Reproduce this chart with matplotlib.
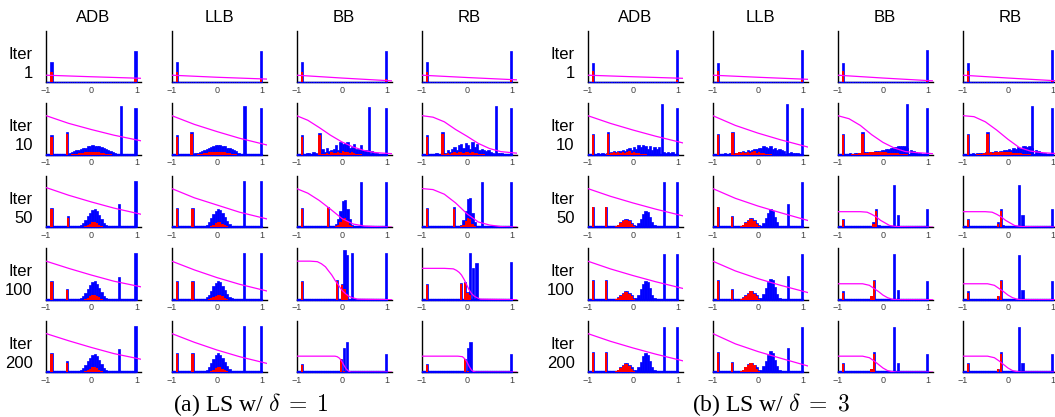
import numpy as np
import matplotlib.pyplot as plt

plt.rcParams['font.family'] = ['Liberation Sans', 'DejaVu Sans']
plt.rcParams['mathtext.fontset'] = 'cm'

METHODS = ["ADB", "LLB", "BB", "RB"]
ITERS = [1, 10, 50, 100, 200]
CAPTIONS = [r"(a) LS w/ $\delta\;=\;1$", r"(b) LS w/ $\delta\;=\;3$"]

# spikes: (x, blue height, red height), heights as fraction of axis height
A_SPIKES = {
    "ADB": [
        [(-0.88, 0.40, 0.21), (0.98, 0.61, 0.06)],
        [(-0.88, 0.38, 0.35), (-0.54, 0.44, 0.40), (0.65, 0.95, 0.0), (0.98, 0.91, 0.0)],
        [(-0.88, 0.38, 0.35), (-0.52, 0.21, 0.18), (0.62, 0.45, 0.0), (0.98, 0.90, 0.0)],
        [(-0.88, 0.37, 0.35), (-0.53, 0.20, 0.18), (0.62, 0.45, 0.0), (0.98, 0.91, 0.0)],
        [(-0.88, 0.37, 0.35), (-0.53, 0.21, 0.18), (0.62, 0.45, 0.0), (0.98, 0.90, 0.0)],
    ],
    "LLB": [
        [(-0.88, 0.40, 0.21), (0.98, 0.61, 0.06)],
        [(-0.88, 0.38, 0.35), (-0.56, 0.44, 0.40), (0.61, 0.95, 0.0), (0.98, 0.91, 0.0)],
        [(-0.88, 0.37, 0.35), (-0.54, 0.37, 0.35), (0.60, 0.90, 0.0), (0.98, 0.90, 0.0)],
        [(-0.88, 0.37, 0.35), (-0.54, 0.37, 0.35), (0.60, 0.90, 0.0), (0.98, 0.90, 0.0)],
        [(-0.88, 0.37, 0.35), (-0.54, 0.38, 0.35), (0.60, 0.89, 0.0), (0.98, 0.89, 0.0)],
    ],
    "BB": [
        [(-0.88, 0.40, 0.21), (0.98, 0.61, 0.06)],
        [(-0.88, 0.38, 0.35), (-0.49, 0.43, 0.39), (0.60, 0.93, 0.0), (0.98, 0.91, 0.0)],
        [(-0.88, 0.37, 0.35), (-0.31, 0.39, 0.37), (0.42, 0.88, 0.0), (0.98, 0.88, 0.0)],
        [(-0.88, 0.37, 0.35), (-0.10, 0.38, 0.36), (0.0, 0.30, 0.28), (0.06, 0.96, 0.20),
         (0.12, 0.87, 0.12), (0.22, 0.90, 0.0), (0.98, 0.91, 0.0)],
        [(-0.88, 0.15, 0.13), (-0.01, 0.26, 0.25), (0.05, 0.46, 0.02), (0.11, 0.59, 0.0),
         (0.98, 0.36, 0.0)],
    ],
    "RB": [
        [(-0.88, 0.40, 0.21), (0.98, 0.61, 0.06)],
        [(-0.88, 0.38, 0.35), (-0.54, 0.45, 0.41), (0.64, 0.95, 0.0), (0.98, 0.91, 0.0)],
        [(-0.88, 0.37, 0.35), (-0.28, 0.39, 0.36), (0.33, 0.88, 0.0), (0.98, 0.88, 0.0)],
        [(-0.88, 0.30, 0.28), (-0.13, 0.32, 0.30), (-0.05, 0.35, 0.33), (0.01, 0.15, 0.14),
         (0.06, 0.90, 0.10), (0.13, 0.61, 0.0), (0.21, 0.72, 0.0), (0.98, 0.74, 0.0)],
        [(-0.88, 0.15, 0.13), (-0.04, 0.26, 0.25), (0.02, 0.46, 0.02), (0.08, 0.59, 0.0),
         (0.98, 0.36, 0.0)],
    ],
}

# bumps: (first bin centre, blue heights, red heights), bins 0.05 wide
A_BUMPS = {
    "ADB": [
        None,
        (-0.475, [0.03, 0.05, 0.07, 0.09, 0.10, 0.12, 0.13, 0.14, 0.16, 0.17, 0.18, 0.17, 0.17, 0.16, 0.15, 0.13, 0.12, 0.10, 0.07, 0.05, 0.03],
                 [0.0, 0.01, 0.02, 0.02, 0.03, 0.04, 0.04, 0.05, 0.05, 0.06, 0.06, 0.06, 0.05, 0.05, 0.04, 0.03, 0.02, 0.02, 0.01, 0.0, 0.0]),
        (-0.275, [0.02, 0.04, 0.08, 0.14, 0.21, 0.28, 0.34, 0.36, 0.31, 0.23, 0.15, 0.08, 0.04, 0.02, 0.01],
                 [0.0, 0.0, 0.0, 0.02, 0.04, 0.07, 0.09, 0.10, 0.08, 0.05, 0.02, 0.0, 0.0, 0.0, 0.0]),
        (-0.275, [0.02, 0.04, 0.08, 0.14, 0.21, 0.28, 0.34, 0.36, 0.31, 0.23, 0.15, 0.08, 0.04, 0.02, 0.01],
                 [0.0, 0.0, 0.0, 0.02, 0.04, 0.07, 0.09, 0.10, 0.08, 0.05, 0.02, 0.0, 0.0, 0.0, 0.0]),
        (-0.275, [0.02, 0.04, 0.08, 0.14, 0.21, 0.28, 0.34, 0.36, 0.31, 0.23, 0.15, 0.08, 0.04, 0.02, 0.01],
                 [0.0, 0.0, 0.0, 0.02, 0.04, 0.07, 0.09, 0.10, 0.08, 0.05, 0.02, 0.0, 0.0, 0.0, 0.0]),
    ],
    "LLB": [
        None,
        (-0.475, [0.03, 0.04, 0.06, 0.08, 0.10, 0.12, 0.14, 0.15, 0.16, 0.18, 0.19, 0.18, 0.17, 0.16, 0.14, 0.13, 0.11, 0.09, 0.07, 0.04, 0.02],
                 [0.0, 0.01, 0.02, 0.02, 0.03, 0.04, 0.05, 0.05, 0.05, 0.06, 0.06, 0.06, 0.05, 0.05, 0.04, 0.03, 0.02, 0.02, 0.01, 0.0, 0.0]),
        (-0.275, [0.02, 0.05, 0.10, 0.17, 0.25, 0.32, 0.35, 0.33, 0.27, 0.19, 0.11, 0.06, 0.03, 0.01, 0.0],
                 [0.0, 0.0, 0.01, 0.03, 0.05, 0.08, 0.09, 0.09, 0.07, 0.04, 0.02, 0.0, 0.0, 0.0, 0.0]),
        (-0.275, [0.02, 0.05, 0.10, 0.17, 0.26, 0.33, 0.36, 0.34, 0.27, 0.19, 0.11, 0.06, 0.03, 0.01, 0.0],
                 [0.0, 0.0, 0.01, 0.03, 0.05, 0.08, 0.10, 0.10, 0.07, 0.04, 0.02, 0.0, 0.0, 0.0, 0.0]),
        (-0.275, [0.02, 0.05, 0.10, 0.17, 0.26, 0.34, 0.37, 0.34, 0.27, 0.19, 0.11, 0.06, 0.03, 0.01, 0.0],
                 [0.0, 0.0, 0.01, 0.03, 0.05, 0.08, 0.10, 0.10, 0.07, 0.04, 0.02, 0.0, 0.0, 0.0, 0.0]),
    ],
    "BB": [
        None,
        (-0.775, [0.03, 0.04, 0.02, 0.05, 0.03, 0.02, 0.03, 0.12, 0.06, 0.14, 0.08, 0.09, 0.12, 0.18, 0.10, 0.25, 0.20,
                  0.22, 0.25, 0.14, 0.15, 0.20, 0.12, 0.12, 0.18, 0.10, 0.10, 0.05, 0.0, 0.07, 0.04, 0.03, 0.02],
                 [0.0, 0.0, 0.0, 0.0, 0.0, 0.0, 0.0, 0.02, 0.01, 0.03, 0.02, 0.05, 0.03, 0.04, 0.06, 0.04, 0.08,
                  0.05, 0.06, 0.04, 0.05, 0.03, 0.02, 0.02, 0.01, 0.0, 0.0, 0.0, 0.0, 0.0, 0.0, 0.0, 0.0]),
        (-0.175, [0.02, 0.06, 0.16, 0.32, 0.50, 0.53, 0.35, 0.15, 0.05, 0.02],
                 [0.0, 0.02, 0.05, 0.10, 0.16, 0.17, 0.12, 0.05, 0.02, 0.0]),
        None,
        None,
    ],
    "RB": [
        None,
        (-0.775, [0.02, 0.02, 0.03, 0.02, 0.02, 0.03, 0.04, 0.10, 0.06, 0.12, 0.15, 0.10, 0.18, 0.20, 0.13, 0.22, 0.18,
                  0.12, 0.25, 0.15, 0.20, 0.10, 0.12, 0.10, 0.08, 0.10, 0.05, 0.03, 0.0, 0.04, 0.03, 0.03, 0.02, 0.02],
                 [0.0, 0.0, 0.0, 0.0, 0.0, 0.0, 0.02, 0.03, 0.02, 0.04, 0.05, 0.03, 0.05, 0.06, 0.04, 0.05, 0.06,
                  0.04, 0.05, 0.03, 0.04, 0.02, 0.02, 0.01, 0.0, 0.0, 0.0, 0.0, 0.0, 0.0, 0.0, 0.0, 0.0, 0.0]),
        (-0.175, [0.02, 0.05, 0.13, 0.32, 0.55, 0.56, 0.28, 0.09, 0.02],
                 [0.0, 0.02, 0.05, 0.12, 0.17, 0.15, 0.07, 0.02, 0.0]),
        None,
        None,
    ],
}

# weight curves: (x points, y points)
X5 = [-1, -0.5, 0, 0.5, 1.1]
X9 = [-1, -0.75, -0.5, -0.25, 0, 0.25, 0.5, 0.75, 1.1]
A_CURVES = {
    "ADB": [([-1, 0, 1.1], [0.14, 0.11, 0.08]),
            (X5, [0.76, 0.61, 0.49, 0.38, 0.27]),
            (X5, [0.77, 0.62, 0.49, 0.37, 0.25]),
            (X5, [0.75, 0.61, 0.48, 0.36, 0.25]),
            (X5, [0.75, 0.61, 0.48, 0.36, 0.25])],
    "LLB": [([-1, 0, 1.1], [0.14, 0.10, 0.065]),
            (X5, [0.76, 0.59, 0.45, 0.32, 0.19]),
            (X5, [0.75, 0.57, 0.43, 0.29, 0.16]),
            (X5, [0.75, 0.58, 0.43, 0.30, 0.17]),
            (X5, [0.75, 0.58, 0.43, 0.30, 0.17])],
    "BB": [([-1, 0, 1.1], [0.14, 0.085, 0.03]),
           (X9, [0.76, 0.67, 0.53, 0.38, 0.25, 0.15, 0.08, 0.04, 0.02]),
           (X9, [0.75, 0.66, 0.52, 0.35, 0.17, 0.06, 0.02, 0.01, 0.0]),
           ([-1, -0.7, -0.54, -0.45, -0.36, -0.3, -0.22, -0.15, -0.07, 0.0, 0.08, 0.15, 0.23, 0.35, 1.1],
            [0.75, 0.75, 0.74, 0.70, 0.64, 0.57, 0.48, 0.38, 0.28, 0.19, 0.12, 0.07, 0.04, 0.01, 0.0]),
           ([-1, -0.15, -0.1, -0.05, 0.0, 0.05, 0.1, 0.15, 0.2, 1.1],
            [0.31, 0.31, 0.30, 0.27, 0.21, 0.13, 0.06, 0.02, 0.0, 0.0])],
    "RB": [([-1, 0, 1.1], [0.14, 0.095, 0.05]),
           (X9, [0.76, 0.73, 0.64, 0.49, 0.36, 0.22, 0.12, 0.06, 0.03]),
           (X9, [0.75, 0.73, 0.64, 0.47, 0.26, 0.10, 0.04, 0.01, 0.0]),
           ([-1, -0.5, -0.3, -0.23, -0.17, -0.12, -0.06, 0.0, 0.05, 0.1, 0.16, 0.22, 0.3, 1.1],
            [0.61, 0.61, 0.60, 0.57, 0.53, 0.48, 0.39, 0.28, 0.19, 0.12, 0.07, 0.04, 0.01, 0.0]),
           ([-1, -0.2, -0.1, -0.05, 0.0, 0.05, 0.1, 0.15, 0.2, 1.1],
            [0.31, 0.31, 0.30, 0.26, 0.20, 0.11, 0.04, 0.01, 0.0, 0.0])],
}

B_SPIKES = {
    "ADB": [
        [(-0.89, 0.38, 0.23), (0.98, 0.64, 0.05)],
        [(-0.89, 0.41, 0.38), (-0.55, 0.44, 0.41), (0.65, 0.98, 0.0), (0.98, 0.90, 0.0)],
        [(-0.89, 0.40, 0.39), (-0.60, 0.40, 0.39), (0.68, 0.88, 0.0), (0.98, 0.88, 0.0)],
        [(-0.89, 0.38, 0.37), (-0.60, 0.38, 0.37), (0.68, 0.88, 0.0), (0.98, 0.88, 0.0)],
        [(-0.89, 0.39, 0.38), (-0.60, 0.39, 0.38), (0.68, 0.88, 0.0), (0.98, 0.88, 0.0)],
    ],
    "LLB": [
        [(-0.89, 0.38, 0.23), (0.98, 0.64, 0.05)],
        [(-0.89, 0.41, 0.38), (-0.56, 0.45, 0.43), (0.65, 0.99, 0.0), (0.98, 0.91, 0.0)],
        [(-0.89, 0.40, 0.39), (-0.57, 0.21, 0.19), (0.66, 0.45, 0.0), (0.98, 0.88, 0.0)],
        [(-0.89, 0.38, 0.37), (-0.57, 0.21, 0.19), (0.66, 0.46, 0.0), (0.98, 0.88, 0.0)],
        [(-0.89, 0.39, 0.38), (-0.57, 0.20, 0.18), (0.66, 0.46, 0.0), (0.98, 0.88, 0.0)],
    ],
    "BB": [
        [(-0.89, 0.38, 0.23), (0.97, 0.64, 0.05)],
        [(-0.89, 0.41, 0.38), (-0.45, 0.44, 0.41), (0.54, 0.98, 0.0), (0.98, 0.90, 0.0)],
        [(-0.89, 0.16, 0.14), (-0.21, 0.09, 0.07), (-0.16, 0.35, 0.32), (-0.10, 0.05, 0.0),
         (0.25, 0.81, 0.0), (0.325, 0.24, 0.0), (0.97, 0.35, 0.0)],
        [(-0.89, 0.17, 0.14), (-0.25, 0.08, 0.07), (-0.19, 0.38, 0.36), (-0.13, 0.02, 0.0),
         (0.25, 0.88, 0.0), (0.325, 0.19, 0.0), (0.97, 0.36, 0.0)],
        [(-0.89, 0.17, 0.15), (-0.25, 0.07, 0.06), (-0.19, 0.39, 0.35),
         (0.25, 0.88, 0.0), (0.325, 0.18, 0.0), (0.97, 0.35, 0.0)],
    ],
    "RB": [
        [(-0.89, 0.38, 0.23), (0.97, 0.64, 0.05)],
        [(-0.89, 0.41, 0.38), (-0.45, 0.44, 0.41), (0.54, 0.95, 0.0), (0.97, 0.90, 0.0)],
        [(-0.89, 0.16, 0.14), (-0.22, 0.09, 0.07), (-0.16, 0.35, 0.32), (-0.11, 0.05, 0.0),
         (0.25, 0.81, 0.0), (0.32, 0.24, 0.0), (0.97, 0.35, 0.0)],
        [(-0.89, 0.17, 0.14), (-0.22, 0.08, 0.07), (-0.16, 0.38, 0.36),
         (0.25, 0.86, 0.0), (0.32, 0.19, 0.0), (0.97, 0.36, 0.0)],
        [(-0.89, 0.17, 0.15), (-0.22, 0.07, 0.06), (-0.16, 0.39, 0.35),
         (0.25, 0.88, 0.0), (0.32, 0.18, 0.0), (0.97, 0.35, 0.0)],
    ],
}

B_BUMPS = {
    "ADB": [
        None,
        (-0.825, [0.02, 0.03, 0.02, 0.03, 0.02, 0.04, 0.03, 0.05, 0.07, 0.05, 0.08, 0.07, 0.10, 0.08, 0.11, 0.13, 0.10, 0.15,
                  0.12, 0.18, 0.15, 0.18, 0.16, 0.12, 0.16, 0.10, 0.15, 0.12, 0.15, 0.0, 0.06, 0.04, 0.06, 0.03, 0.05, 0.0],
                 [0.0, 0.0, 0.0, 0.0, 0.0, 0.02, 0.01, 0.04, 0.05, 0.03, 0.05, 0.04, 0.06, 0.04, 0.05, 0.07, 0.04, 0.06,
                  0.04, 0.03, 0.02, 0.02, 0.01, 0.0, 0.0, 0.0, 0.0, 0.0, 0.0, 0.0, 0.0, 0.0, 0.0, 0.0, 0.0, 0.0]),
        (-0.375, [0.02, 0.05, 0.09, 0.13, 0.16, 0.16, 0.13, 0.08, 0.04, 0.03, 0.08, 0.16, 0.26, 0.32, 0.30, 0.20, 0.10, 0.04],
                 [0.02, 0.04, 0.08, 0.12, 0.14, 0.14, 0.11, 0.06, 0.02, 0.0, 0.0, 0.0, 0.0, 0.0, 0.0, 0.0, 0.0, 0.0]),
        (-0.375, [0.02, 0.05, 0.10, 0.14, 0.17, 0.17, 0.14, 0.09, 0.04, 0.04, 0.10, 0.20, 0.31, 0.37, 0.34, 0.22, 0.10, 0.04],
                 [0.02, 0.04, 0.08, 0.12, 0.15, 0.15, 0.12, 0.07, 0.02, 0.0, 0.0, 0.0, 0.0, 0.0, 0.0, 0.0, 0.0, 0.0]),
        (-0.375, [0.02, 0.05, 0.10, 0.14, 0.17, 0.17, 0.14, 0.09, 0.04, 0.04, 0.10, 0.20, 0.31, 0.37, 0.34, 0.22, 0.10, 0.04],
                 [0.02, 0.04, 0.08, 0.12, 0.15, 0.15, 0.12, 0.07, 0.02, 0.0, 0.0, 0.0, 0.0, 0.0, 0.0, 0.0, 0.0, 0.0]),
    ],
    "LLB": [
        None,
        (-0.825, [0.02, 0.02, 0.03, 0.02, 0.03, 0.03, 0.04, 0.04, 0.06, 0.05, 0.07, 0.06, 0.09, 0.08, 0.10, 0.12, 0.11, 0.14,
                  0.13, 0.17, 0.15, 0.14, 0.16, 0.12, 0.14, 0.10, 0.12, 0.10, 0.08, 0.0, 0.04, 0.05, 0.03, 0.04, 0.03, 0.02],
                 [0.0, 0.0, 0.0, 0.0, 0.0, 0.02, 0.01, 0.04, 0.05, 0.03, 0.05, 0.04, 0.06, 0.04, 0.05, 0.07, 0.04, 0.06,
                  0.04, 0.03, 0.02, 0.02, 0.01, 0.0, 0.0, 0.0, 0.0, 0.0, 0.0, 0.0, 0.0, 0.0, 0.0, 0.0, 0.0, 0.0]),
        (-0.375, [0.02, 0.05, 0.10, 0.14, 0.17, 0.17, 0.13, 0.08, 0.04, 0.03, 0.08, 0.17, 0.28, 0.35, 0.32, 0.20, 0.09, 0.03],
                 [0.02, 0.04, 0.08, 0.12, 0.15, 0.15, 0.11, 0.06, 0.02, 0.0, 0.0, 0.0, 0.0, 0.0, 0.0, 0.0, 0.0, 0.0]),
        (-0.375, [0.02, 0.05, 0.10, 0.14, 0.17, 0.17, 0.14, 0.09, 0.04, 0.04, 0.11, 0.22, 0.34, 0.41, 0.38, 0.24, 0.11, 0.04],
                 [0.02, 0.04, 0.08, 0.12, 0.16, 0.16, 0.12, 0.07, 0.02, 0.0, 0.0, 0.0, 0.0, 0.0, 0.0, 0.0, 0.0, 0.0]),
        (-0.375, [0.02, 0.05, 0.10, 0.15, 0.18, 0.18, 0.14, 0.09, 0.04, 0.04, 0.11, 0.22, 0.34, 0.41, 0.38, 0.24, 0.11, 0.04],
                 [0.02, 0.04, 0.09, 0.13, 0.17, 0.17, 0.13, 0.07, 0.02, 0.0, 0.0, 0.0, 0.0, 0.0, 0.0, 0.0, 0.0, 0.0]),
    ],
    "BB": [
        None,
        (-0.825, [0.02, 0.02, 0.03, 0.02, 0.03, 0.03, 0.04, 0.04, 0.05, 0.05, 0.05, 0.06, 0.06, 0.07, 0.07, 0.08, 0.09, 0.10,
                  0.11, 0.12, 0.13, 0.14, 0.15, 0.16, 0.17, 0.16, 0.17, 0.14, 0.0, 0.10, 0.08, 0.06, 0.04, 0.03, 0.02, 0.02],
                 [0.0, 0.0, 0.0, 0.01, 0.02, 0.02, 0.03, 0.03, 0.04, 0.04, 0.04, 0.05, 0.05, 0.05, 0.05, 0.05, 0.05, 0.05,
                  0.05, 0.04, 0.04, 0.04, 0.03, 0.03, 0.02, 0.02, 0.01, 0.01, 0.0, 0.0, 0.0, 0.0, 0.0, 0.0, 0.0, 0.0]),
        None, None, None,
    ],
    "RB": [
        None,
        (-0.825, [0.02, 0.03, 0.02, 0.03, 0.03, 0.03, 0.04, 0.05, 0.04, 0.06, 0.05, 0.07, 0.06, 0.08, 0.07, 0.09, 0.10, 0.11,
                  0.10, 0.13, 0.12, 0.15, 0.14, 0.16, 0.17, 0.15, 0.16, 0.13, 0.0, 0.09, 0.08, 0.05, 0.04, 0.03, 0.02, 0.02],
                 [0.0, 0.0, 0.0, 0.01, 0.02, 0.02, 0.03, 0.03, 0.04, 0.05, 0.04, 0.06, 0.05, 0.05, 0.06, 0.05, 0.05, 0.06,
                  0.05, 0.04, 0.04, 0.03, 0.03, 0.02, 0.02, 0.01, 0.01, 0.0, 0.0, 0.0, 0.0, 0.0, 0.0, 0.0, 0.0, 0.0]),
        None, None, None,
    ],
}

B_CURVES = {
    "ADB": [([-1, 0, 1.1], [0.14, 0.11, 0.08]),
            (X5, [0.76, 0.61, 0.48, 0.36, 0.23]),
            (X5, [0.75, 0.60, 0.47, 0.35, 0.22]),
            (X5, [0.75, 0.60, 0.47, 0.35, 0.22]),
            (X5, [0.75, 0.60, 0.47, 0.35, 0.22])],
    "LLB": [([-1, 0, 1.1], [0.14, 0.10, 0.06]),
            (X5, [0.76, 0.57, 0.42, 0.29, 0.15]),
            (X5, [0.75, 0.56, 0.41, 0.28, 0.13]),
            (X5, [0.75, 0.56, 0.41, 0.28, 0.14]),
            (X5, [0.75, 0.55, 0.40, 0.27, 0.12])],
    "BB": [([-1, 0, 1.1], [0.14, 0.085, 0.03]),
           (X9, [0.76, 0.70, 0.57, 0.39, 0.24, 0.13, 0.06, 0.04, 0.02]),
           ([-1, -0.5, -0.35, -0.25, -0.15, -0.05, 0.05, 0.15, 0.3, 1.1],
            [0.30, 0.30, 0.29, 0.25, 0.20, 0.13, 0.08, 0.03, 0.01, 0.0]),
           ([-1, -0.45, -0.3, -0.2, -0.1, 0.0, 0.1, 0.2, 0.3, 1.1],
            [0.31, 0.31, 0.28, 0.22, 0.16, 0.09, 0.04, 0.01, 0.0, 0.0]),
           ([-1, -0.45, -0.3, -0.2, -0.1, 0.0, 0.1, 0.2, 0.3, 1.1],
            [0.31, 0.31, 0.28, 0.22, 0.15, 0.08, 0.03, 0.01, 0.0, 0.0])],
    "RB": [([-1, 0, 1.1], [0.14, 0.085, 0.03]),
           (X9, [0.76, 0.74, 0.64, 0.48, 0.30, 0.14, 0.07, 0.04, 0.02]),
           ([-1, -0.5, -0.35, -0.25, -0.15, -0.05, 0.05, 0.15, 0.3, 1.1],
            [0.30, 0.30, 0.29, 0.25, 0.20, 0.13, 0.08, 0.03, 0.01, 0.0]),
           ([-1, -0.45, -0.3, -0.2, -0.1, 0.0, 0.1, 0.2, 0.3, 1.1],
            [0.31, 0.31, 0.28, 0.22, 0.16, 0.09, 0.04, 0.01, 0.0, 0.0]),
           ([-1, -0.45, -0.3, -0.2, -0.1, 0.0, 0.1, 0.2, 0.3, 1.1],
            [0.31, 0.31, 0.28, 0.22, 0.15, 0.08, 0.03, 0.01, 0.0, 0.0])],
}

# layout in pixels
W, H = 1055, 417
COL_LEFT = [[46, 171.7, 296.5, 421.7], [587.7, 712.7, 837.7, 962.7]]
ROW_TOP = [31, 103.3, 175.7, 248.3, 320.7]
AX_W, AX_H = 95, 51.4
CAPTION_X = [251, 771]

BLUE = "#0000ff"
RED = "#ff0000"
MAGENTA = "#ff00ff"
BW = 0.05
BIN_CENTERS = np.arange(-1 + BW / 2, 1.0, BW)
EMPTY_BIN = 0.012   # outline of an empty bin, as drawn by the original plot


def draw_cell(ax, spikes, bump, curve):
    ax.bar(BIN_CENTERS, np.full(len(BIN_CENTERS), EMPTY_BIN), width=BW, color=BLUE,
           edgecolor=BLUE, linewidth=1.0, zorder=3, clip_on=False)
    if bump is not None:
        x0, blue, red = bump
        xs = x0 + BW * np.arange(len(blue))
        ax.bar(xs, blue, width=BW, color=BLUE, edgecolor=BLUE, linewidth=0.5, zorder=3, clip_on=False)
        ax.bar(xs, red, width=BW, color=RED, linewidth=0, zorder=4)
    sx = [s[0] for s in spikes]
    ax.bar(sx, [s[1] for s in spikes], width=BW, color=BLUE, edgecolor=BLUE,
           linewidth=0.5, zorder=3, clip_on=False)
    ax.bar(sx, [s[2] for s in spikes], width=BW, color=RED, linewidth=0, zorder=4)
    ax.plot(curve[0], curve[1], color=MAGENTA, linewidth=0.9, zorder=5)

    ax.set_xlim(-1, 1.1)
    ax.set_ylim(0, 1)
    for side in ("top", "right"):
        ax.spines[side].set_visible(False)
    for side in ("left", "bottom"):
        ax.spines[side].set_linewidth(1.0)
        ax.spines[side].set_zorder(2)
    ax.set_yticks([])
    ax.set_xticks([-1, 0, 1])
    ax.set_xticklabels(["\u22121", "0", "1"])
    ax.tick_params(axis="x", length=0, pad=2.5, labelsize=6.5, labelcolor="#404040")


fig = plt.figure(figsize=(W / 100, H / 100), dpi=100)

panels = [(A_SPIKES, A_BUMPS, A_CURVES), (B_SPIKES, B_BUMPS, B_CURVES)]
for p, (spk, bmp, crv) in enumerate(panels):
    for c, m in enumerate(METHODS):
        left = COL_LEFT[p][c]
        fig.text((left + AX_W / 2) / W, 1 - 22 / H, m, ha="center", va="baseline", fontsize=12)
        for r, it in enumerate(ITERS):
            top = ROW_TOP[r]
            ax = fig.add_axes([left / W, 1 - (top + AX_H) / H, AX_W / W, AX_H / H])
            draw_cell(ax, spk[m][r], bmp[m][r], crv[m][r])
    for r, it in enumerate(ITERS):
        top = ROW_TOP[r]
        xr = (COL_LEFT[p][0] - 13) / W
        fig.text(xr, 1 - (top + 28) / H, "Iter", ha="right", va="baseline", fontsize=12)
        fig.text(xr, 1 - (top + 47) / H, str(it), ha="right", va="baseline", fontsize=12)
    fig.text(CAPTION_X[p] / W, 1 - 411 / H, CAPTIONS[p], ha="center", va="baseline",
             fontsize=17, family="Liberation Serif")

fig.savefig("out.png", dpi=100, facecolor="white")
